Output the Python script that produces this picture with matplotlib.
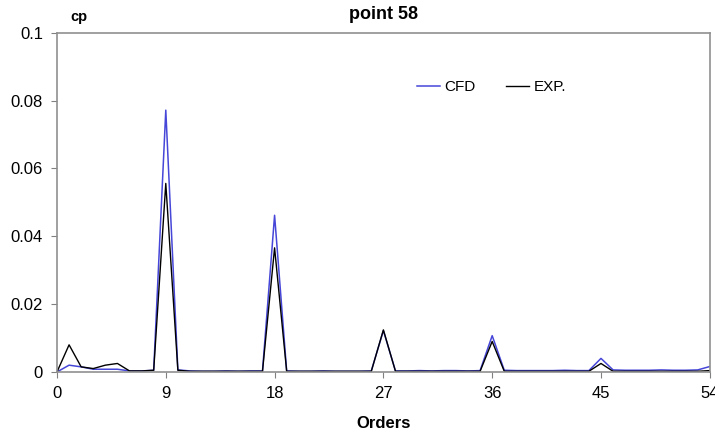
import numpy as np
import matplotlib.pyplot as plt

plt.rcParams['font.family'] = ['Liberation Sans', 'DejaVu Sans']

orders = np.arange(0, 55)

cfd = [0.0, 0.002, 0.0015, 0.0008, 0.0008, 0.0008, 0.0003, 0.0003, 0.0005,
       0.0772, 0.0006, 0.0003, 0.0002, 0.0002, 0.0003, 0.0002, 0.0003, 0.0003,
       0.0462, 0.0003, 0.0002, 0.0002, 0.0003, 0.0002, 0.0002, 0.0002, 0.0003,
       0.0122, 0.0003, 0.0003, 0.0004, 0.0003, 0.0004, 0.0004, 0.0003, 0.0004,
       0.0107, 0.0005, 0.0004, 0.0004, 0.0004, 0.0004, 0.0005, 0.0004, 0.0004,
       0.0040, 0.0006, 0.0005, 0.0005, 0.0005, 0.0006, 0.0005, 0.0005, 0.0006,
       0.0016]

exp = [0.0, 0.0080, 0.0015, 0.0010, 0.0020, 0.0025, 0.0003, 0.0003, 0.0005,
       0.0556, 0.0005, 0.0002, 0.0002, 0.0002, 0.0002, 0.0002, 0.0002, 0.0002,
       0.0366, 0.0002, 0.0002, 0.0002, 0.0002, 0.0002, 0.0002, 0.0002, 0.0002,
       0.0124, 0.0002, 0.0002, 0.0002, 0.0002, 0.0002, 0.0002, 0.0002, 0.0002,
       0.0090, 0.0002, 0.0002, 0.0002, 0.0002, 0.0002, 0.0002, 0.0002, 0.0002,
       0.0025, 0.0002, 0.0002, 0.0002, 0.0002, 0.0002, 0.0002, 0.0002, 0.0002,
       0.0004]

fig = plt.figure(figsize=(7.15, 4.32), dpi=100)
ax = fig.add_axes([0.0797, 0.139, 0.913, 0.785])

ax.plot(orders, cfd, color='#4646d8', lw=1.1, label='CFD')
ax.plot(orders, exp, color='black', lw=1.0, label='EXP.')

ax.set_xlim(0, 54)
ax.set_ylim(0, 0.1)
ax.set_xticks(np.arange(0, 55, 9))
ax.set_yticks([0, 0.02, 0.04, 0.06, 0.08, 0.1])
ax.set_yticklabels(['0', '0.02', '0.04', '0.06', '0.08', '0.1'])
ax.tick_params(labelsize=12, length=4, color='#808080', pad=6)
for s in ax.spines.values():
    s.set_color('#909090')
    s.set_linewidth(1.2)

ax.set_xlabel('Orders', fontsize=12, fontweight='bold', labelpad=11)
ax.set_title('point 58', fontsize=13, fontweight='bold', pad=10)
fig.text(0.098, 0.952, 'cp', fontsize=10.5, fontweight='bold')

ax.legend(loc='upper left', bbox_to_anchor=(0.53, 0.9), ncol=2, frameon=False,
          fontsize=11, handlelength=1.5, handletextpad=0.3, columnspacing=2.0)

plt.savefig('out.png', dpi=100)
